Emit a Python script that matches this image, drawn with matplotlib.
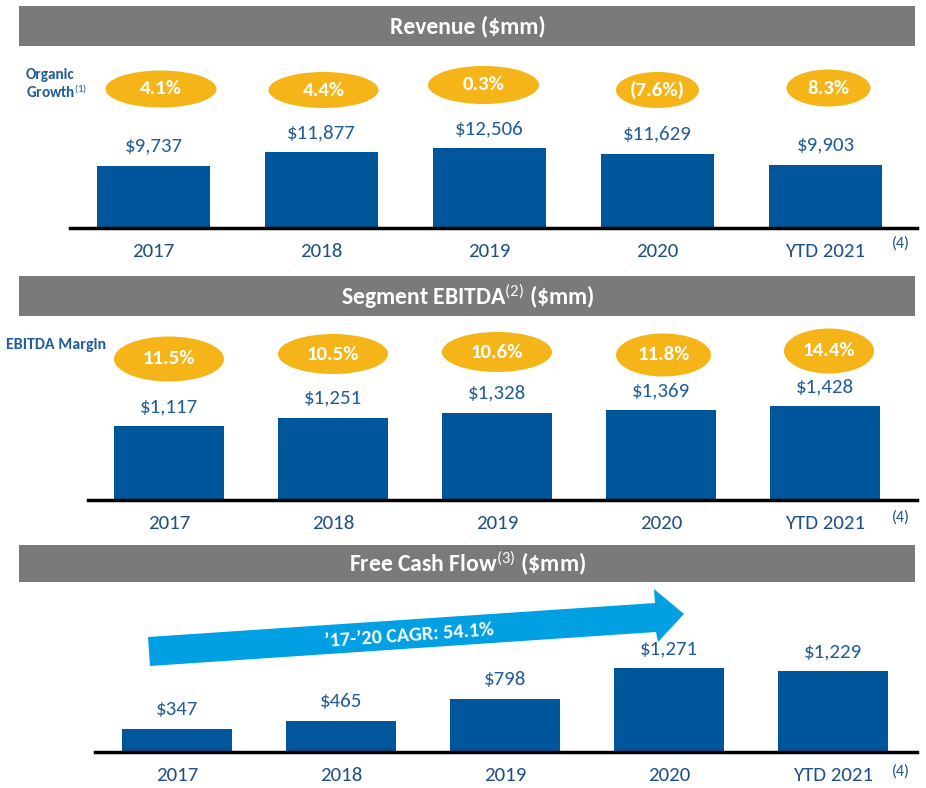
import matplotlib
matplotlib.use("Agg")
import matplotlib.pyplot as plt
from matplotlib.patches import Ellipse, Rectangle, Polygon
from matplotlib.transforms import blended_transform_factory

plt.rcParams['font.family'] = ['Carlito', 'DejaVu Sans']
plt.rcParams['mathtext.fontset'] = 'custom'
plt.rcParams['mathtext.rm'] = 'Carlito'
plt.rcParams['mathtext.it'] = 'Carlito:italic'
plt.rcParams['mathtext.bf'] = 'Carlito:bold'

# data
categories = ['2017', '2018', '2019', '2020', 'YTD 2021']
revenue = [9737, 11877, 12506, 11629, 9903]
organic_growth = ['4.1%', '4.4%', '0.3%', '(7.6%)', '8.3%']
ebitda = [1117, 1251, 1328, 1369, 1428]
ebitda_margin = ['11.5%', '10.5%', '10.6%', '11.8%', '14.4%']
fcf = [347, 465, 798, 1271, 1229]
cagr_label = '\u201917-\u201920 CAGR: 54.1%'

W, H = 926, 788
BAR = '#00569a'
VAL = '#1f5c9b'
CAT = '#1f4f86'
GOLD = '#f5b417'
GRAY = '#7a7a7a'
ARROW = '#00a0e3'

fig = plt.figure(figsize=(W / 100, H / 100), dpi=100)


def fx(x):
    return x / W


def fy(y):
    return 1 - y / H


def header(y0, y1, title):
    fig.add_artist(Rectangle((fx(19), fy(y1)), fx(915) - fx(19), fy(y0) - fy(y1),
                             transform=fig.transFigure, color=GRAY, lw=0))
    fig.text(fx(468), fy((y0 + y1) / 2), title, color='white', fontsize=17,
             fontweight='bold', ha='center', va='center')


def panel(left, right, base, top, c0, step, ymax, values, fmt):
    ax = fig.add_axes([fx(left), fy(base), fx(right) - fx(left), fy(top) - fy(base)])
    ax.set_xlim((left - c0) / step, (right - c0) / step)
    ax.set_ylim(0, ymax)
    x = range(len(values))
    ax.bar(x, values, width=0.67, color=BAR)
    for i, v in zip(x, values):
        ax.annotate(fmt.format(v), (i, v), xytext=(0, 14), textcoords='offset points',
                    ha='center', va='center', color=VAL, fontsize=15)
        ax.annotate(categories[i], (i, 0), xytext=(0, -17), textcoords='offset points',
                    ha='center', va='center', color=CAT, fontsize=15)
    for s in ['top', 'right', 'left']:
        ax.spines[s].set_visible(False)
    ax.spines['bottom'].set_linewidth(2.5)
    ax.spines['bottom'].set_color('black')
    ax.set_xticks([])
    ax.set_yticks([])
    ax.patch.set_alpha(0)
    return ax


def bubbles(ax, labels, dx, ys, ws, hs, step):
    tr = blended_transform_factory(ax.transData, fig.transFigure)
    for i, lab in enumerate(labels):
        cx = i + dx[i] / step
        ax.add_patch(Ellipse((cx, fy(ys[i])), ws[i] / step, hs[i] / H, transform=tr,
                             color=GOLD, lw=0, clip_on=False))
        ax.text(cx, fy(ys[i]), lab, transform=tr, ha='center', va='center',
                color='white', fontsize=15, fontweight='bold')


# Revenue
header(6, 46, 'Revenue ($mm)')
ax1 = panel(70, 917, 228, 50, 153.5, 168, 27800, revenue, '${:,}')
bubbles(ax1, organic_growth, [7.5, 2, -6, 0, 3], [89, 90, 85, 90, 88],
        [111, 110, 111, 83, 84], [37, 36, 38, 36, 37], 168)
fig.text(fx(26), fy(75), 'Organic', color=VAL, fontsize=11, fontweight='bold', va='center')
fig.text(fx(26), fy(93), 'Growth$^{(1)}$', color=VAL, fontsize=11, fontweight='bold', va='center')
fig.text(fx(901), fy(244), '(4)', color=CAT, fontsize=11.5, ha='center', va='center')

# Segment EBITDA
header(276, 316, 'Segment EBITDA$^{(2)}$ (\\$mm)')
ax2 = panel(88, 917, 500, 318, 169, 164, 2765, ebitda, '${:,}')
bubbles(ax2, ebitda_margin, [0, 0, 0, 2.5, 4], [359, 354, 352, 355, 351],
        [110, 110, 110, 95, 90], [45, 40, 40, 43, 45], 164)
fig.text(fx(6), fy(345), 'EBITDA Margin', color=VAL, fontsize=11.5, fontweight='bold', va='center')
fig.text(fx(901), fy(518), '(4)', color=CAT, fontsize=11.5, ha='center', va='center')

# Free Cash Flow
header(545, 582, 'Free Cash Flow$^{(3)}$ (\\$mm)')
ax3 = panel(95, 917, 752, 584, 177, 164, 2545, fcf, '${:,}')
fig.text(fx(901), fy(772), '(4)', color=CAT, fontsize=11.5, ha='center', va='center')

arrow_px = [(148, 637), (150, 666), (656, 632), (658, 642), (684, 614), (654, 589), (655, 603)]
fig.add_artist(Polygon([(x / 100, (H - y) / 100) for x, y in arrow_px],
                       closed=True, transform=fig.dpi_scale_trans, color=ARROW, lw=0))
fig.text(fx(409), fy(636), cagr_label, color='white', fontsize=14.5, fontweight='bold',
         ha='center', va='center', rotation=4)

fig.savefig('out.png', dpi=100)
